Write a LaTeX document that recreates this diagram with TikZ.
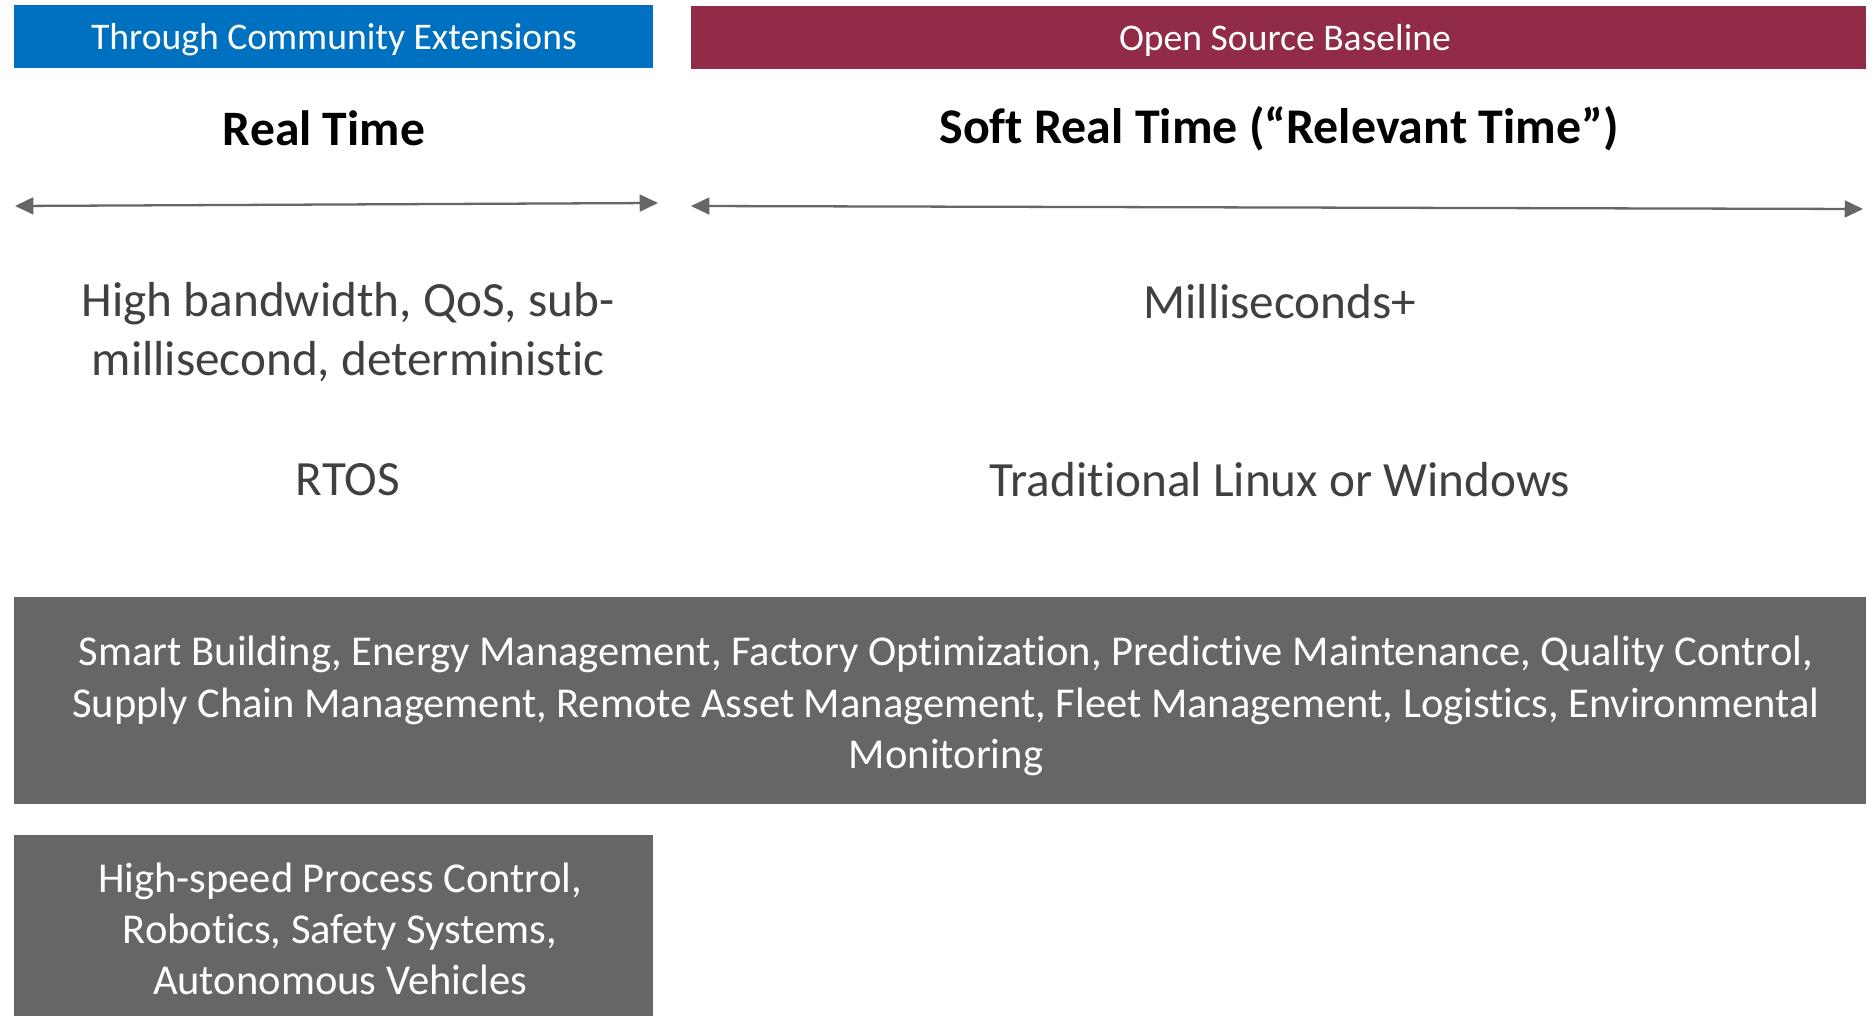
\documentclass[tikz,border=0pt]{standalone}
\usepackage{fontspec}
\usepackage{xcolor}
\usetikzlibrary{arrows.meta}
\setmainfont[Ligatures=NoCommon]{Carlito}

\begin{document}
\begin{tikzpicture}[
    x=0.01cm, y=-0.01cm,
    font=\rmfamily,
    >={Triangle[length=5.2pt,width=4.8pt]}
]

\definecolor{vblue}{HTML}{0070C0}
\definecolor{vmaroon}{HTML}{922B47}
\definecolor{vgrey}{HTML}{666666}
\definecolor{vtext}{HTML}{404040}

\useasboundingbox (0, 0) rectangle (1876, 1016);

% ==========================================
% 1. HEADER BANDS
% ==========================================

\fill[vblue] (14, 5) rectangle (653, 68);
\fill[vmaroon] (691, 6) rectangle (1866, 69);

\node[text=white, font=\fontsize{10.7}{13}\selectfont] (comm) at (334, 40) {Through Community Extensions};
\node[text=white, font=\fontsize{10.7}{13}\selectfont] (base) at (1285, 40) {Open Source Baseline};

% ==========================================
% 2. TITLES & RANGE ARROWS
% ==========================================

\node[font=\fontsize{14.1}{17}\bfseries] (rt) at (324, 128) {Real Time};
\node[font=\fontsize{14.2}{17}\bfseries] (srt) at (1279, 129) {Soft Real Time (“Relevant Time”)};

\coordinate (rtL) at (15, 206);
\coordinate (rtR) at (658, 203);
\coordinate (srtL) at (691, 206);
\coordinate (srtR) at (1863, 209);

\draw[<->, vgrey, line width=0.65pt] (rtL) -- (rtR);
\draw[<->, vgrey, line width=0.65pt] (srtL) -- (srtR);

% ==========================================
% 3. PROPERTIES
% ==========================================

\node[align=center, text=vtext, font=\fontsize{14}{16.7}\selectfont] (bw) at (348, 332)
    {High bandwidth, QoS, sub-\\millisecond, deterministic};
\node[text=vtext, font=\fontsize{14}{16.7}\selectfont] (ms) at (1280, 302) {Milliseconds+};

\node[text=vtext, font=\fontsize{14}{16.7}\selectfont] (rtos) at (348, 480) {RTOS};
\node[text=vtext, font=\fontsize{14}{16.7}\selectfont] (os) at (1280, 480) {Traditional Linux or Windows};

% ==========================================
% 4. APPLICATION BOXES
% ==========================================

\fill[vgrey] (14, 597) rectangle (1866, 804);
\fill[vgrey] (14, 835) rectangle (653, 1016);

\node[align=center, text=white, font=\fontsize{12.1}{14.6}\selectfont] (apps) at (946, 706)
    {Smart Building, Energy Management, Factory Optimization, Predictive Maintenance, Quality Control,\\
     Supply Chain Management, Remote Asset Management, Fleet Management, Logistics, Environmental\\
     Monitoring};
\node[align=center, text=white, font=\fontsize{12.1}{14.6}\selectfont] (rtapps) at (340, 929)
    {High-speed Process Control,\\Robotics, Safety Systems,\\Autonomous Vehicles};

\end{tikzpicture}
\end{document}
